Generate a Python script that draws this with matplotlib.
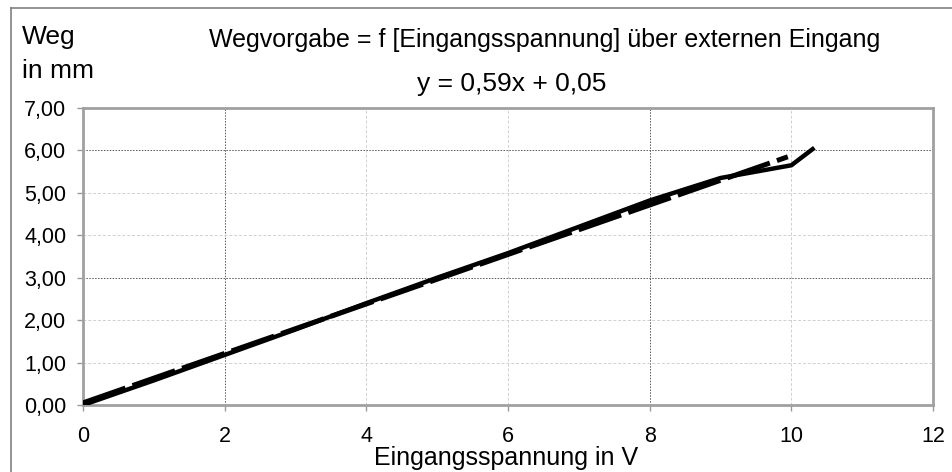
import numpy as np
import matplotlib
matplotlib.use("Agg")
from matplotlib import pyplot as plt
from matplotlib.lines import Line2D

plt.rcParams['font.family'] = ['Liberation Sans', 'DejaVu Sans']

# measured curve (Eingangsspannung in V -> Weg in mm)
volt = [0, 1, 2, 3, 4, 5, 6, 7, 8, 9, 10, 10.3]
weg = [0.0, 0.58, 1.18, 1.78, 2.40, 3.00, 3.58, 4.20, 4.82, 5.35, 5.65, 6.03]

# linear trend line y = 0,59x + 0,05
trend_x = [0, 9.95]
trend_y = [0.05, 5.85]

x_ticks = [0, 2, 4, 6, 8, 10, 12]
y_ticks = [0, 1, 2, 3, 4, 5, 6, 7]
y_labels = ["0,00", "1,00", "2,00", "3,00", "4,00", "5,00", "6,00", "7,00"]

fig = plt.figure(figsize=(9.53, 4.72), dpi=100)
ax = fig.add_axes([83/953, 1-405/472, 850/953, 297/472])

# grid: some lines darker dotted, the rest light dashed
for xv in x_ticks[1:-1]:
    if xv in (2, 8):
        ax.axvline(xv, color='#555555', ls=(0, (1.5, 1.5)), lw=0.7, zorder=1)
    else:
        ax.axvline(xv, color='#d0d0d0', ls=(0, (3, 2)), lw=0.7, zorder=1)
for yv in y_ticks[1:-1]:
    if yv in (3, 6):
        ax.axhline(yv, color='#555555', ls=(0, (1.5, 1.5)), lw=0.7, zorder=1)
    else:
        ax.axhline(yv, color='#d0d0d0', ls=(0, (3, 2)), lw=0.7, zorder=1)

ax.plot(volt, weg, color='black', lw=3.2, solid_joinstyle='miter', zorder=3)
ax.plot(trend_x, trend_y, color='black', lw=3.6, dashes=(9, 1.5), zorder=3)

ax.set_xlim(0, 12)
ax.set_ylim(0, 7)
ax.set_xticks(x_ticks)
ax.set_xticklabels([str(v) for v in x_ticks], fontsize=15.5)
ax.set_yticks(y_ticks)
ax.set_yticklabels(y_labels, fontsize=15.5)
ax.tick_params(axis='both', direction='out', length=4, width=1, color='#999999')
ax.tick_params(axis='x', pad=11)
ax.tick_params(axis='y', pad=8)
for s in ax.spines.values():
    s.set_color('#a0a0a0')
    s.set_linewidth(2)

fig.text(545/953, 1-40/472, "Wegvorgabe = f [Eingangsspannung] über externen Eingang",
         ha='center', va='center', fontsize=18)
fig.text(512/953, 1-84/472, "y = 0,59x + 0,05", ha='center', va='center', fontsize=19)
fig.text(22/953, 1-37/472, "Weg", ha='left', va='center', fontsize=19)
fig.text(22/953, 1-71/472, "in mm", ha='left', va='center', fontsize=19)
fig.text(506/953, 1-458/472, "Eingangsspannung in V", ha='center', va='center', fontsize=18)

# outer chart border (left and top visible)
fig.add_artist(Line2D([11/953, 11/953], [0, 1-8/472], color='#808080', lw=1.2))
fig.add_artist(Line2D([11/953, 1], [1-8/472, 1-8/472], color='#808080', lw=1.2))

fig.savefig("out.png", dpi=100)
